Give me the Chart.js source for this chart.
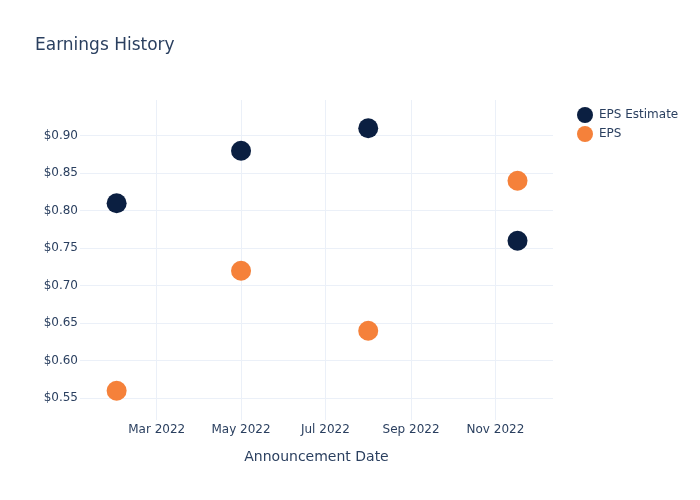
<!DOCTYPE html>
<html>
<head>
<meta charset="utf-8">
<script src="https://cdn.jsdelivr.net/npm/chart.js@4.4.0/dist/chart.umd.min.js"></script>
<style>
    html, body { margin: 0; padding: 0; background: #fff; }
</style>
</head>
<body>
<canvas id="chart" width="700" height="500"></canvas>
<script>
// data
const dates = ['2022-01-31', '2022-05-01', '2022-08-01', '2022-11-17'];
const epsEstimate = [0.81, 0.88, 0.91, 0.76];
const eps = [0.56, 0.72, 0.64, 0.84];
const xTicks = ['2022-03-01', '2022-05-01', '2022-07-01', '2022-09-01', '2022-11-01'];
const yTicks = [0.55, 0.60, 0.65, 0.70, 0.75, 0.80, 0.85, 0.90];
const xRange = ['2022-01-04T12:00:00Z', '2022-12-12T16:00:00Z'];
const yRange = [0.521, 0.9476];
const months = ['Jan', 'Feb', 'Mar', 'Apr', 'May', 'Jun', 'Jul', 'Aug', 'Sep', 'Oct', 'Nov', 'Dec'];

const textColor = '#2a3f5f';
const gridColor = '#ebf0f8';

Chart.defaults.font.family = 'DejaVu Sans';
Chart.defaults.font.size = 12;
Chart.defaults.color = textColor;

// the legend sits a bit away from the plot, like plotly does it
const legendShift = {
    id: 'legendShift',
    afterLayout(chart) {
        const lg = chart.legend;
        const h = lg.height;
        lg.left = chart.chartArea.right + 21;
        lg.right = chart.width;
        lg.width = lg.right - lg.left;
        lg.top = chart.chartArea.top + 4;
        lg.bottom = lg.top + h;
    }
};

function points(values) {
    return values.map((v, i) => ({ x: Date.parse(dates[i]), y: v }));
}

new Chart(document.getElementById('chart'), {
    type: 'scatter',
    data: {
        datasets: [{
            label: 'EPS Estimate',
            data: points(epsEstimate),
            backgroundColor: '#0b1f41',
            borderColor: 'rgba(0,0,0,0)',
            borderWidth: 0,
            pointRadius: 10,
            pointHoverRadius: 10
        }, {
            label: 'EPS',
            data: points(eps),
            backgroundColor: '#f5813a',
            borderColor: 'rgba(0,0,0,0)',
            borderWidth: 0,
            pointRadius: 10,
            pointHoverRadius: 10
        }]
    },
    options: {
        responsive: false,
        animation: false,
        layout: {
            padding: { left: 35, right: 67, top: 0, bottom: 0 }
        },
        plugins: {
            title: {
                display: true,
                text: 'Earnings History',
                align: 'start',
                color: textColor,
                font: { size: 17, weight: 'normal' },
                padding: { top: 35, bottom: 44.6 }
            },
            legend: {
                position: 'right',
                align: 'start',
                maxWidth: 80,
                labels: {
                    boxWidth: 16,
                    boxHeight: 16,
                    useBorderRadius: true,
                    borderRadius: 8,
                    padding: 3,
                    color: textColor,
                    font: { size: 12 }
                }
            },
            tooltip: { enabled: false }
        },
        scales: {
            x: {
                type: 'linear',
                min: Date.parse(xRange[0]),
                max: Date.parse(xRange[1]),
                afterBuildTicks: scale => {
                    scale.ticks = xTicks.map(s => ({ value: Date.parse(s) }));
                },
                afterFit: scale => {
                    scale.height = 80;
                },
                grid: { color: gridColor, drawTicks: false },
                border: { display: false },
                ticks: {
                    padding: 3,
                    maxRotation: 0,
                    autoSkip: false,
                    callback: value => {
                        const d = new Date(value);
                        return months[d.getUTCMonth()] + ' ' + d.getUTCFullYear();
                    }
                },
                title: {
                    display: true,
                    text: 'Announcement Date',
                    color: textColor,
                    font: { size: 14 },
                    padding: { top: 0, bottom: 34 }
                }
            },
            y: {
                min: yRange[0],
                max: yRange[1],
                afterBuildTicks: scale => {
                    scale.ticks = yTicks.map(v => ({ value: v }));
                },
                afterFit: scale => {
                    scale.width = 45;
                },
                grid: { color: gridColor, drawTicks: false },
                border: { display: false },
                ticks: {
                    padding: 2,
                    callback: value => '$' + value.toFixed(2)
                }
            }
        }
    },
    plugins: [legendShift]
});
</script>
</body>
</html>
